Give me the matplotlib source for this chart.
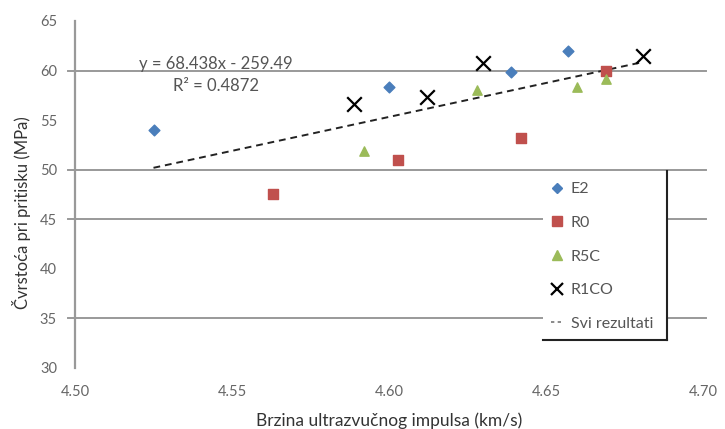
import matplotlib
matplotlib.use("Agg")
import matplotlib.pyplot as plt
from matplotlib.lines import Line2D
from matplotlib.patches import Rectangle
import numpy as np

plt.rcParams['font.family'] = ['Lato', 'DejaVu Sans']

# Data
e2_x = [4.525, 4.600, 4.639, 4.657]
e2_y = [54.0, 58.3, 59.9, 62.0]
r0_x = [4.563, 4.603, 4.642, 4.669]
r0_y = [47.6, 51.0, 53.2, 60.0]
r5c_x = [4.592, 4.628, 4.660, 4.669]
r5c_y = [51.9, 58.0, 58.35, 59.2]
r1co_x = [4.589, 4.612, 4.630, 4.681]
r1co_y = [56.6, 57.3, 60.8, 61.5]
trend_slope = 68.438
trend_intercept = -259.49
r_squared = 0.4872
series_labels = ["E2", "R0", "R5C", "R1CO", "Svi rezultati"]
x_ticks = [4.50, 4.55, 4.60, 4.65, 4.70]
y_ticks = [30, 35, 40, 45, 50, 55, 60, 65]
grid_vals = [60, 50, 45, 35]

W, H = 725, 429
fig = plt.figure(figsize=(W / 100, H / 100), dpi=100)
ax_l, ax_r, ax_t, ax_b = 75, 703, 21, 368
ax = fig.add_axes([ax_l / W, 1 - ax_b / H, (ax_r - ax_l) / W, (ax_b - ax_t) / H])
ax.set_xlim(4.50, 4.70)
ax.set_ylim(30, 65)

for s in ['top', 'right', 'bottom']:
    ax.spines[s].set_visible(False)
ax.spines['left'].set_color('#999999')
ax.spines['left'].set_linewidth(1.6)

tick_col = '#666666'
ax.set_xticks(x_ticks)
ax.set_xticklabels([f"{v:.2f}" for v in x_ticks])
ax.set_yticks(y_ticks)
ax.set_yticklabels([str(v) for v in y_ticks])
ax.tick_params(axis='both', length=0, labelsize=10.5, colors=tick_col)
ax.tick_params(axis='x', pad=12.5)
ax.tick_params(axis='y', pad=13)

for g in grid_vals:
    ax.axhline(g, xmin=-0.011, xmax=1.005, color='#999999', lw=1.4, clip_on=False, zorder=1)

# Scatter series
ax.scatter(e2_x, e2_y, marker='D', s=30, color='#4a7ebb', zorder=3)
ax.scatter(r0_x, r0_y, marker='s', s=55, color='#c0504d', zorder=3)
ax.scatter(r5c_x, r5c_y, marker='^', s=45, color='#9bbb59', zorder=3)
ax.scatter(r1co_x, r1co_y, marker='x', s=110, color='black', linewidths=1.6, zorder=4)

# Trend line
all_x = np.array(e2_x + r0_x + r5c_x + r1co_x)
tx = np.array([all_x.min(), all_x.max()])
ty = trend_slope * tx + trend_intercept
ax.plot(tx, ty, color='#222222', lw=1.4, linestyle=(0, (3.5, 2.5)), zorder=2)

ax.text(4.545, 60.7, "y = 68.438x - 259.49", fontsize=12, color='#555555', ha='center', va='center')
ax.text(4.545, 58.4, "R² = {:.4f}".format(r_squared), fontsize=12, color='#555555', ha='center', va='center')

# Axis labels
fig.text(389 / W, 1 - 421 / H, "Brzina ultrazvučnog impulsa (km/s)", fontsize=12.5,
         color='#333333', ha='center', va='center')
fig.text(22 / W, 1 - 213 / H, "Čvrstoća pri pritisku (MPa)", rotation=90, fontsize=12,
         color='#333333', ha='center', va='center')

# Legend box
lx0, lx1, ly0, ly1 = 543, 667, 171, 340
def ax_xy(px, py):
    return ((px - ax_l) / (ax_r - ax_l), (ax_b - py) / (ax_b - ax_t))
p0 = ax_xy(lx0, ly1)
p1 = ax_xy(lx1, ly0)
ax.add_patch(Rectangle(p0, p1[0] - p0[0], p1[1] - p0[1], transform=ax.transAxes,
                       facecolor='white', edgecolor='none', zorder=5, clip_on=False))
fig.add_artist(Line2D([lx1 / W, lx1 / W], [1 - ly0 / H, 1 - ly1 / H], color='#222222', lw=1.5))
fig.add_artist(Line2D([lx0 / W, lx1 / W], [1 - ly1 / H, 1 - ly1 / H], color='#222222', lw=1.5))

handles = [
    Line2D([], [], marker='D', color='#4a7ebb', linestyle='none', markersize=5),
    Line2D([], [], marker='s', color='#c0504d', linestyle='none', markersize=7.5),
    Line2D([], [], marker='^', color='#9bbb59', linestyle='none', markersize=7),
    Line2D([], [], marker='x', color='black', linestyle='none', markersize=9, markeredgewidth=1.6),
    Line2D([], [], color='#777777', lw=1.2, linestyle=(0, (2, 2))),
]
leg = ax.legend(handles, series_labels, loc='upper left', bbox_to_anchor=ax_xy(551, 182),
                frameon=False, fontsize=11.5, labelcolor='#555555', handlelength=0.8,
                handletextpad=0.45, labelspacing=1.22, borderaxespad=0, borderpad=0)
leg.set_zorder(6)

fig.savefig("out.png", dpi=100, facecolor='white')
